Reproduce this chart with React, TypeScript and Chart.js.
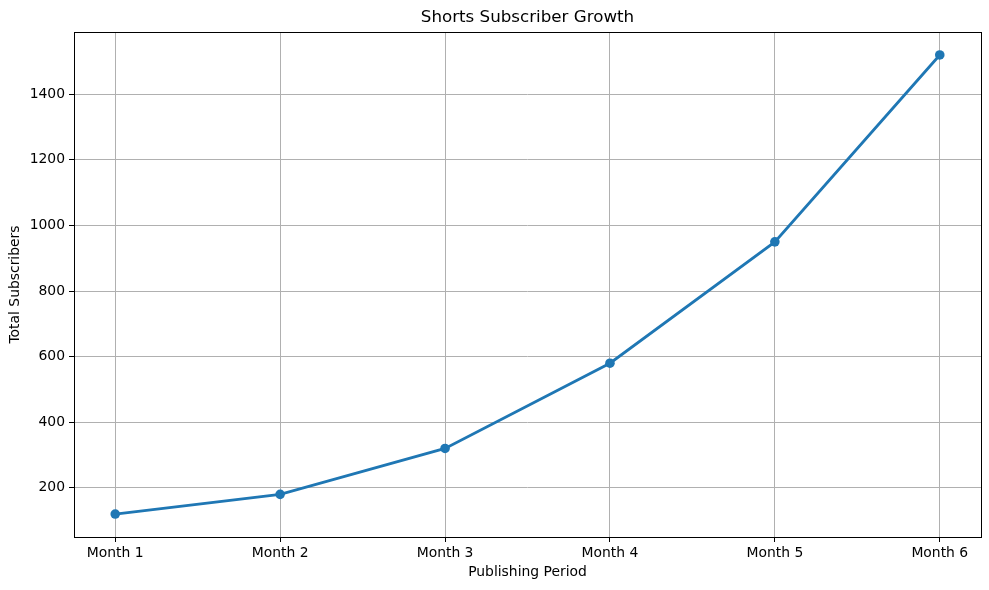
import { useEffect, useRef } from "react"
import { Chart, registerables } from "chart.js"

Chart.register(...registerables)

const months = ["Month 1", "Month 2", "Month 3", "Month 4", "Month 5", "Month 6"]
const subscribers = [120, 180, 320, 580, 950, 1520]

const chartTitle = "Shorts Subscriber Growth"
const xTitle = "Publishing Period"
const yTitle = "Total Subscribers"

const FONT = "'DejaVu Sans', sans-serif"

// frame round the plot area plus the title centred over the axes
const framePlugin = {
  id: "frame",
  afterDraw(chart: Chart) {
    const { ctx, chartArea } = chart
    ctx.save()
    ctx.strokeStyle = "#000"
    ctx.lineWidth = 1
    ctx.strokeRect(
      Math.round(chartArea.left) + 0.5,
      Math.round(chartArea.top) + 0.5,
      Math.round(chartArea.right - chartArea.left),
      Math.round(chartArea.bottom - chartArea.top)
    )
    ctx.fillStyle = "#000"
    ctx.font = `16.7px ${FONT}`
    ctx.textAlign = "center"
    ctx.textBaseline = "middle"
    ctx.fillText(chartTitle, (chartArea.left + chartArea.right) / 2, 18)
    ctx.restore()
  },
}

export default function App() {
  const chartRef = useRef<HTMLCanvasElement>(null)
  const chartInstance = useRef<Chart | null>(null)

  useEffect(() => {
    document.body.style.margin = "0"
    if (!chartRef.current) return
    if (chartInstance.current) chartInstance.current.destroy()
    const ctx = chartRef.current.getContext("2d")
    if (!ctx) return

    chartInstance.current = new Chart(ctx, {
      type: "line",
      data: {
        datasets: [
          {
            data: subscribers.map((v, i) => ({ x: i, y: v })),
            borderColor: "#1f77b4",
            backgroundColor: "#1f77b4",
            borderWidth: 2.8,
            pointRadius: 4.8,
            pointHoverRadius: 4.8,
            pointBorderWidth: 0,
            tension: 0,
          },
        ],
      },
      options: {
        animation: false,
        responsive: false,
        layout: { padding: { top: 32, right: 8, left: 0, bottom: 0 } },
        plugins: {
          legend: { display: false },
          title: { display: false },
          tooltip: { enabled: false },
        },
        scales: {
          x: {
            type: "linear",
            min: -0.25,
            max: 5.25,
            afterFit: (scale: any) => {
              scale.height = 53
            },
            ticks: {
              stepSize: 1,
              includeBounds: false,
              padding: 3,
              color: "#000",
              font: { family: FONT, size: 13.9 },
              callback: (v: any) => months[v] ?? "",
              maxRotation: 0,
              autoSkip: false,
            },
            grid: {
              color: "#b0b0b0",
              lineWidth: 1,
              tickColor: "#000",
              tickLength: 5,
            },
            border: { display: false },
            title: {
              display: true,
              text: xTitle,
              color: "#000",
              font: { family: FONT, size: 13.9 },
              padding: { top: 0, bottom: 9 },
            },
          },
          y: {
            min: 50,
            max: 1590,
            afterFit: (scale: any) => {
              scale.width = 74
            },
            ticks: {
              stepSize: 200,
              includeBounds: false,
              padding: 4,
              color: "#000",
              font: { family: FONT, size: 13.9 },
              callback: (v: any) => String(v),
            },
            grid: {
              color: "#b0b0b0",
              lineWidth: 1,
              tickColor: "#000",
              tickLength: 5,
            },
            border: { display: false },
            title: {
              display: true,
              text: yTitle,
              color: "#000",
              font: { family: FONT, size: 13.9 },
              padding: { top: 7, bottom: 0 },
            },
          },
        },
      },
      plugins: [framePlugin],
    })

    return () => {
      if (chartInstance.current) {
        chartInstance.current.destroy()
        chartInstance.current = null
      }
    }
  }, [])

  return (
    <div style={{ width: 989, height: 590, background: "#fff" }}>
      <canvas ref={chartRef} width={989} height={590} />
    </div>
  )
}
